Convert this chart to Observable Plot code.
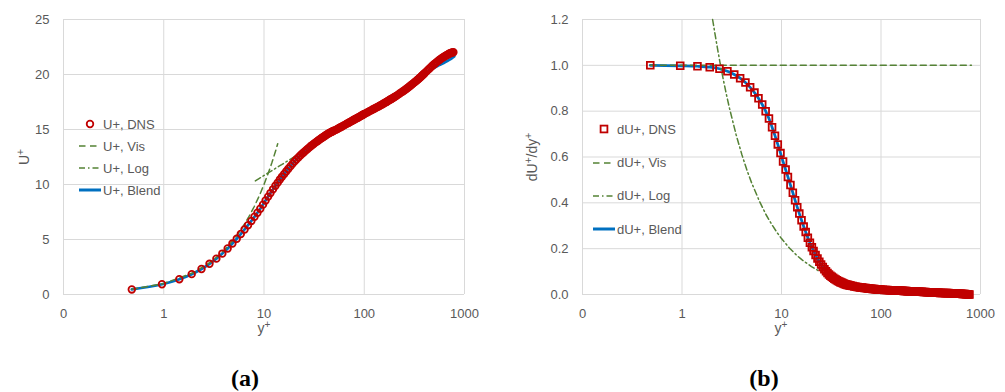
<!DOCTYPE html>
<html>
<head>
<meta charset="utf-8">
<script src="https://cdn.jsdelivr.net/npm/d3@7"></script>
<script src="https://cdn.jsdelivr.net/npm/@observablehq/plot@0.6"></script>
<style>
  body { margin: 0; background: #fff; }
  #wrap { position: relative; width: 1005px; height: 392px; font-family: "Liberation Sans", Arial, sans-serif; color: #595959; overflow: hidden; }
  .panel { position: absolute; top: 0; }
  .ttl { position: absolute; font-size: 14px; color: #595959; white-space: nowrap; line-height: 1; }
  .rot { transform: translate(-50%, -50%) rotate(-90deg); }
  .hz { transform: translate(-50%, -50%); }
  sup { font-size: 0.72em; line-height: 0; vertical-align: 0.45em; }
  .plabel { position: absolute; font-family: "Liberation Serif", "DejaVu Serif", serif; font-weight: bold; font-size: 24px; color: #000; transform: translate(-50%, -50%); }
  .legend { position: absolute; font-size: 13px; color: #595959; }
  .legend .row { display: flex; align-items: center; white-space: nowrap; }
  .legend svg { display: block; }
</style>
</head>
<body>
<div id="wrap">
  <div id="pa" class="panel" style="left:0"></div>
  <div id="pb" class="panel" style="left:500px"></div>
  <div class="ttl rot" style="left:24px; top:157px">U<sup>+</sup></div>
  <div class="ttl hz" style="left:264px; top:328px">y<sup>+</sup></div>
  <div class="ttl rot" style="left:532px; top:157px">dU<sup>+</sup>/dy<sup>+</sup></div>
  <div class="ttl hz" style="left:781px; top:328px">y<sup>+</sup></div>
  <div class="plabel" style="left:245px; top:378px">(a)</div>
  <div class="plabel" style="left:764px; top:378px">(b)</div>
  <div id="lega" class="legend" style="left:79px; top:113px"></div>
  <div id="legb" class="legend" style="left:593px; top:112.6px"></div>
</div>
<script>
// ---------- data ----------
const yPlus = [0.48, 0.96, 1.43, 1.9, 2.38, 2.86, 3.35, 3.84, 4.34, 4.84,
  5.35, 5.87, 6.4, 6.93, 7.48, 8.04, 8.6, 9.18, 9.77, 10.37,
  11.0, 11.6, 12.3, 13.0, 13.7, 14.4, 15.1, 15.9, 16.7, 17.5,
  18.4, 19.3, 20.2,
  21, 22, 23, 24, 25, 26, 27, 28, 29, 30, 31, 32, 33, 34, 35, 36, 37, 38, 39, 40,
  41, 42, 43, 44, 45, 46, 47, 48, 49, 50,
  52, 54, 56, 58, 60, 62, 64, 66, 68, 70, 72, 74, 76, 78, 80, 82, 84, 86, 88, 90, 92, 94, 96, 98, 100,
  104, 108, 112, 116, 120, 124, 128, 132, 136, 140, 144, 148, 152, 156, 160, 164, 168, 172, 176, 180, 184, 188, 192, 196, 200,
  208, 216, 224, 232, 240, 248, 256, 264, 272, 280, 288, 296, 304, 312, 320, 328, 336, 344, 352, 360, 368, 376, 384, 392, 400,
  415, 430, 445, 460, 475, 490, 505, 520, 535, 550, 565, 580, 595, 610, 625, 640, 655, 670, 685, 700, 715, 730, 745, 760, 775];

const uPlusDNS = [0.46, 0.93, 1.39, 1.85, 2.32, 2.79, 3.26, 3.72, 4.18, 4.63,
  5.07, 5.5, 5.91, 6.3, 6.69, 7.07, 7.43, 7.8, 8.17, 8.55,
  8.9, 9.22, 9.56, 9.88, 10.17, 10.45, 10.7, 10.96, 11.2, 11.43,
  11.67, 11.9, 12.1,
  12.27, 12.46, 12.63, 12.79, 12.94, 13.08, 13.21, 13.33, 13.45, 13.56, 13.66, 13.76, 13.85, 13.94, 14.02, 14.1, 14.18, 14.25, 14.32, 14.39,
  14.46, 14.52, 14.58, 14.63, 14.69, 14.74, 14.78, 14.82, 14.86, 14.9,
  14.97, 15.05, 15.13, 15.21, 15.28, 15.35, 15.42, 15.49, 15.56, 15.62, 15.68, 15.74, 15.8, 15.86, 15.91, 15.97, 16.02, 16.07, 16.12, 16.17, 16.22, 16.27, 16.32, 16.36, 16.41,
  16.49, 16.57, 16.65, 16.72, 16.79, 16.86, 16.93, 16.99, 17.06, 17.12, 17.18, 17.24, 17.3, 17.36, 17.42, 17.48, 17.53, 17.59, 17.65, 17.7, 17.75, 17.8, 17.85, 17.9, 17.95,
  18.05, 18.15, 18.25, 18.35, 18.44, 18.53, 18.62, 18.71, 18.8, 18.89, 18.98, 19.07, 19.15, 19.24, 19.32, 19.4, 19.48, 19.56, 19.64, 19.72, 19.8, 19.88, 19.96, 20.04, 20.12,
  20.26, 20.4, 20.53, 20.65, 20.77, 20.88, 20.98, 21.08, 21.17, 21.26, 21.34, 21.42, 21.49, 21.56, 21.62, 21.67, 21.73, 21.78, 21.83, 21.88, 21.92, 21.95, 21.98, 22.01, 22.03];

const dUdyDNS = [1.0, 0.998, 0.996, 0.992, 0.985, 0.974, 0.96, 0.944, 0.925, 0.904,
  0.881, 0.856, 0.829, 0.8, 0.768, 0.73, 0.693, 0.655, 0.617, 0.58,
  0.545, 0.513, 0.478, 0.444, 0.411, 0.381, 0.353, 0.324, 0.297, 0.273,
  0.248, 0.226, 0.206,
  0.19, 0.172, 0.157, 0.143, 0.131, 0.12, 0.11, 0.101, 0.094, 0.087, 0.082, 0.077, 0.073, 0.069, 0.065, 0.062, 0.059, 0.057, 0.054, 0.052,
  0.05, 0.048, 0.046, 0.045, 0.043, 0.042, 0.041, 0.04, 0.039, 0.038,
  0.037, 0.035, 0.034, 0.033, 0.032, 0.031, 0.03, 0.029, 0.028, 0.028, 0.027, 0.026, 0.026, 0.025, 0.025, 0.024, 0.024, 0.024, 0.023, 0.023, 0.022, 0.022, 0.022, 0.021, 0.021,
  0.021, 0.02, 0.02, 0.02, 0.019, 0.019, 0.018, 0.018, 0.018, 0.017, 0.017, 0.017, 0.016, 0.016, 0.016, 0.016, 0.015, 0.015, 0.015, 0.015, 0.014, 0.014, 0.014, 0.014, 0.014,
  0.013, 0.013, 0.013, 0.013, 0.012, 0.012, 0.012, 0.011, 0.011, 0.011, 0.01, 0.01, 0.01, 0.01, 0.009, 0.009, 0.009, 0.009, 0.008, 0.008, 0.008, 0.008, 0.008, 0.007, 0.007,
  0.007, 0.007, 0.006, 0.006, 0.006, 0.005, 0.005, 0.005, 0.004, 0.004, 0.004, 0.004, 0.003, 0.003, 0.003, 0.003, 0.002, 0.002, 0.002, 0.002, 0.001, 0.001, 0.001, 0.0, 0.0];

const blendY = [0.48, 0.96, 1.43, 1.9, 2.38, 2.86, 3.35, 3.84, 4.34, 4.84,
  5.35, 5.87, 6.4, 6.93, 7.48, 8.04, 8.6, 9.18, 9.77, 10.37,
  11.6, 13.0, 14.4, 15.9, 17.5, 19.3,
  21, 23, 25, 28, 32, 36, 40, 46, 53, 62, 71, 80, 95, 110, 130, 150, 180, 210, 250, 300, 360,
  400, 450, 500, 560, 620, 680, 740, 790];
const uPlusBlend = [0.46, 0.93, 1.39, 1.85, 2.32, 2.79, 3.26, 3.72, 4.18, 4.63,
  5.07, 5.5, 5.91, 6.3, 6.69, 7.07, 7.43, 7.8, 8.17, 8.55,
  9.22, 9.88, 10.45, 10.96, 11.43, 11.9,
  12.27, 12.63, 12.94, 13.33, 13.76, 14.1, 14.39, 14.74, 15.01, 15.35, 15.65, 15.91, 16.25, 16.61, 16.96, 17.27, 17.7, 18.07, 18.55, 19.11, 19.72,
  20.08, 20.4, 20.62, 20.85, 21.05, 21.25, 21.45, 21.64];
const dUdyBlend = [1.0, 0.998, 0.996, 0.992, 0.985, 0.974, 0.96, 0.944, 0.925, 0.904,
  0.881, 0.856, 0.829, 0.8, 0.768, 0.73, 0.693, 0.655, 0.617, 0.58,
  0.513, 0.444, 0.381, 0.324, 0.273, 0.226,
  0.19, 0.157, 0.131, 0.101, 0.077, 0.062, 0.052, 0.042, 0.036, 0.031, 0.027, 0.025, 0.022, 0.02, 0.018, 0.016, 0.015, 0.013, 0.012, 0.01, 0.008,
  0.007, 0.006, 0.005, 0.004, 0.003, 0.002, 0.001, 0.0];

const visY = [0.48, 1, 2, 3, 4, 5, 6, 7, 8, 9, 10, 11, 12, 13, 13.7];
const uPlusVis = [0.48, 1, 2, 3, 4, 5, 6, 7, 8, 9, 10, 11, 12, 13, 13.7];
const logY = [8.2, 9, 10, 11, 12, 13, 14, 15, 16, 18, 20, 22, 25];
const uPlusLog = [10.33, 10.56, 10.82, 11.05, 11.26, 11.46, 11.64, 11.8, 11.96, 12.25, 12.51, 12.74, 13.05];

const visDY = [0.48, 810];
const dUdyVis = [1.0, 1.0];
const logDY = [2.03, 2.2, 2.4, 2.6, 2.8, 3, 3.5, 4, 4.5, 5, 6, 7, 8, 9, 10, 12, 14, 16, 18, 20, 23, 26, 30];
const dUdyLog = [1.2, 1.109, 1.016, 0.938, 0.871, 0.813, 0.697, 0.61, 0.542, 0.488, 0.407, 0.348, 0.305, 0.271, 0.244, 0.203, 0.174, 0.152, 0.136, 0.122, 0.106, 0.094, 0.081];

const xTicks = [0.1, 1, 10, 100, 1000];
const xTickLabels = ["0", "1", "10", "100", "1000"];
const yTicksA = [0, 5, 10, 15, 20, 25];
const yTicksB = [0, 0.2, 0.4, 0.6, 0.8, 1.0, 1.2];

const namesA = ["U+, DNS", "U+, Vis", "U+, Log", "U+, Blend"];
const namesB = ["dU+, DNS", "dU+, Vis", "dU+, Log", "dU+, Blend"];

// ---------- styles ----------
const RED = "#C00000", BLUE = "#0070C0", GREEN = "#548235", GRID = "#D9D9D9";
const DASH = "6,4", DASHDOT = "6,3,1.5,3";

const pts = (xs, ys) => xs.map((x, i) => ({x, y: ys[i]}));
const dnsA = pts(yPlus, uPlusDNS), dnsB = pts(yPlus, dUdyDNS);

function panel({width, marginLeft, marginRight, yDomain, yTicks, yFmt, vis, log, blend, dns, symbol, r, sw}) {
  return Plot.plot({
    width, height: 340,
    marginTop: 19, marginBottom: 46, marginLeft, marginRight,
    style: {background: "white", color: "#595959", fontSize: "13px", fontFamily: "'Liberation Sans', Arial, sans-serif"},
    x: {type: "log", domain: [0.1, 1000]},
    y: {domain: yDomain},
    marks: [
      Plot.gridX(xTicks, {stroke: GRID, strokeOpacity: 1, strokeWidth: 1}),
      Plot.gridY(yTicks, {stroke: GRID, strokeOpacity: 1, strokeWidth: 1}),
      Plot.axisX({ticks: xTicks, tickFormat: d => xTickLabels[xTicks.indexOf(d)], tickSize: 0, tickPadding: 14, label: null}),
      Plot.axisY({ticks: yTicks, tickFormat: yFmt, tickSize: 0, tickPadding: 14, label: null}),
      Plot.line(blend, {x: "x", y: "y", stroke: BLUE, strokeWidth: 2.75, curve: "monotone-x"}),
      Plot.line(vis, {x: "x", y: "y", stroke: GREEN, strokeWidth: 1.5, strokeDasharray: DASH}),
      Plot.line(log, {x: "x", y: "y", stroke: GREEN, strokeWidth: 1.5, strokeDasharray: DASHDOT}),
      Plot.dot(dns, {x: "x", y: "y", symbol, r, stroke: RED, strokeWidth: sw, fill: "none"})
    ]
  });
}

document.getElementById("pa").append(panel({
  width: 500, marginLeft: 63, marginRight: 36, yDomain: [0, 25], yTicks: yTicksA, yFmt: d => String(d),
  vis: pts(visY, uPlusVis), log: pts(logY, uPlusLog), blend: pts(blendY, uPlusBlend), dns: dnsA,
  symbol: "circle", r: 3.3, sw: 1.8
}));
document.getElementById("pb").append(panel({
  width: 505, marginLeft: 82, marginRight: 25, yDomain: [0, 1.2], yTicks: yTicksB, yFmt: d => d.toFixed(1),
  vis: pts(visDY, dUdyVis), log: pts(logDY, dUdyLog), blend: pts(blendY, dUdyBlend), dns: dnsB,
  symbol: "square", r: 3.8, sw: 1.8
}));

// ---------- legends ----------
function swatch(kind, sym) {
  const ns = "http://www.w3.org/2000/svg";
  const s = document.createElementNS(ns, "svg");
  s.setAttribute("width", 22); s.setAttribute("height", 10);
  let el;
  if (kind === 0) {
    if (sym === "circle") {
      el = document.createElementNS(ns, "circle");
      el.setAttribute("cx", 11); el.setAttribute("cy", 5); el.setAttribute("r", 3.3);
      el.setAttribute("stroke-width", 1.8);
    } else {
      el = document.createElementNS(ns, "rect");
      el.setAttribute("x", 7.6); el.setAttribute("y", 1.6); el.setAttribute("width", 6.8); el.setAttribute("height", 6.8);
      el.setAttribute("stroke-width", 1.8);
    }
    el.setAttribute("fill", "none"); el.setAttribute("stroke", RED);
  } else {
    el = document.createElementNS(ns, "line");
    el.setAttribute("x1", 0); el.setAttribute("x2", kind === 1 ? 19 : 22);
    el.setAttribute("y1", 5); el.setAttribute("y2", 5);
    el.setAttribute("stroke", kind === 3 ? BLUE : GREEN);
    el.setAttribute("stroke-width", kind === 3 ? 3 : 1.6);
    if (kind === 1) el.setAttribute("stroke-dasharray", "6.5,4.5");
    if (kind === 2) el.setAttribute("stroke-dasharray", DASHDOT);
  }
  s.append(el);
  return s;
}
function legend(id, names, sym, rowH, textLeft) {
  const box = document.getElementById(id);
  names.forEach((n, i) => {
    const row = document.createElement("div");
    row.className = "row";
    row.style.height = rowH + "px";
    const sw = swatch(i, sym);
    sw.style.marginRight = (textLeft - 22) + "px";
    row.append(sw);
    const t = document.createElement("span");
    t.textContent = n;
    row.append(t);
    box.append(row);
  });
}
legend("lega", namesA, "circle", 22, 24);
legend("legb", namesB, "square", 33.3, 24);
</script>
</body>
</html>
